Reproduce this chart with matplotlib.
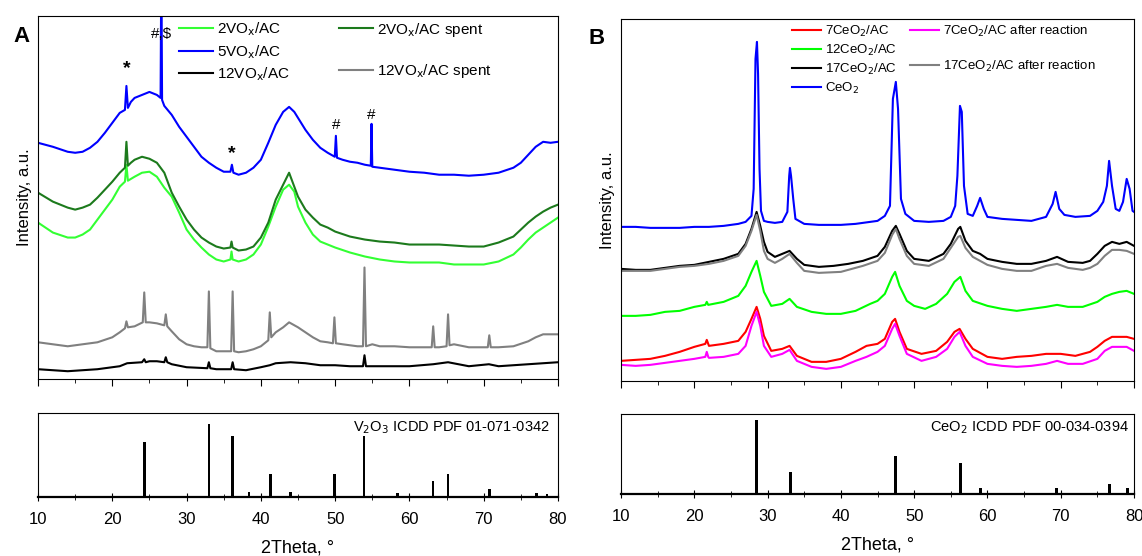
import matplotlib.pyplot as plt
from matplotlib.lines import Line2D

plt.rcParams['font.family'] = ['Liberation Sans', 'DejaVu Sans']

# ---- panel A : VOx/AC patterns (intensity, a.u.) ----
x_5v = [10, 12, 14, 15, 16, 17, 18, 19, 20, 21, 21.7, 21.9, 22.1, 22.5, 23, 24, 25, 26, 26.5, 26.6, 26.7,
        27, 28, 29, 30, 31, 32, 33, 34, 35, 35.9, 36.1, 36.3, 37, 38, 39, 40, 41, 42, 43, 43.8, 44.5, 45,
        46, 47, 48, 49, 49.95, 50.1, 50.25, 51, 52, 53, 54, 54.8, 54.9, 55.0, 56, 58, 60, 62, 64, 66, 68,
        70, 72, 74, 75, 76, 77, 78, 79, 80]
y_5v = [237, 233, 228, 227, 228, 232, 238, 247, 257, 267, 270, 294, 272, 278, 282, 285, 288, 285, 282, 420, 280,
        274, 265, 253, 243, 233, 223, 217, 212, 208, 208, 215, 207, 205, 207, 212, 220, 237, 255, 268, 273, 268, 262,
        250, 240, 232, 227, 223, 244, 222, 220, 218, 217, 215, 214, 256, 213, 212, 210, 208, 207, 205, 205, 204,
        205, 207, 212, 217, 225, 233, 238, 237, 238]

x_2v_spent = [10, 12, 14, 15, 16, 17, 18, 19, 20, 21, 21.7, 21.9, 22.1, 22.5, 23, 24, 25, 26, 27, 28, 29, 30,
              31, 32, 33, 34, 35, 35.9, 36.05, 36.2, 37, 38, 39, 40, 41, 42, 43, 43.8, 44.5, 45, 46, 47, 48,
              49, 50, 52, 54, 56, 58, 60, 62, 64, 66, 68, 70, 72, 74, 75, 76, 77, 78, 79, 80]
y_2v_spent = [187, 178, 172, 170, 172, 175, 182, 190, 198, 207, 212, 238, 214, 217, 220, 223, 221, 217, 207, 187,
              173, 160, 150, 142, 137, 133, 131, 132, 138, 132, 129, 130, 133, 142, 157, 180, 195, 207, 193, 183,
              170, 162, 155, 152, 148, 143, 140, 138, 137, 135, 135, 135, 134, 133, 133, 137, 143, 150, 157, 163,
              168, 172, 175]

x_2v = [10, 12, 14, 15, 16, 17, 18, 19, 20, 21, 21.7, 21.9, 22.1, 23, 24, 25, 26, 27, 28, 29, 30, 31, 32, 33,
        34, 35, 35.9, 36.05, 36.2, 37, 38, 39, 40, 41, 42, 43, 43.8, 44.5, 45, 46, 47, 48, 49, 50, 52, 54, 56,
        58, 60, 62, 64, 66, 68, 70, 72, 74, 75, 76, 77, 78, 79, 80]
y_2v = [157, 147, 142, 142, 145, 150, 160, 170, 180, 193, 198, 215, 199, 203, 207, 208, 203, 192, 183, 167, 150,
        140, 132, 125, 120, 118, 120, 128, 120, 118, 120, 125, 135, 153, 173, 190, 195, 188, 173, 157, 145, 138,
        135, 132, 127, 123, 120, 118, 117, 117, 117, 115, 115, 115, 118, 125, 132, 140, 147, 152, 157, 162]

x_12v_spent = [10, 12, 14, 16, 18, 20, 21, 21.7, 21.9, 22.1, 23, 24.1, 24.3, 24.5, 25, 26, 27.0, 27.2, 27.4,
               28, 29, 30, 31, 32, 32.8, 33.0, 33.2, 34, 35, 36.0, 36.2, 36.4, 37, 38, 39, 40, 41.0, 41.2,
               41.4, 42, 43, 43.8, 45, 46, 47, 48, 49, 49.7, 49.9, 50.1, 51, 52, 53, 53.75, 53.95, 54.15, 55,
               56, 58, 60, 62, 63.0, 63.2, 63.4, 64, 65.0, 65.2, 65.4, 66, 68, 70, 70.55, 70.75, 70.95, 72,
               74, 76, 77, 78, 79, 80]
y_12v_spent = [37, 35, 33, 35, 37, 42, 47, 51, 58, 52, 53, 57, 87, 57, 57, 56, 54, 65, 53,
               48, 40, 35, 33, 32, 32, 88, 31, 28, 28, 28, 88, 28, 27, 28, 30, 33, 39, 67,
               42, 47, 52, 57, 52, 47, 42, 38, 37, 36, 62, 36, 35, 34, 33, 33, 112, 33, 35,
               33, 33, 32, 32, 32, 53, 32, 32, 33, 65, 34, 35, 32, 32, 32, 44, 32, 32,
               33, 38, 42, 45, 45, 45]

x_12v = [10, 14, 16, 18, 20, 21, 22, 24, 24.3, 24.5, 25, 26, 27, 27.2, 27.4, 28, 30, 32.8, 33.0, 33.2, 34,
         35, 36.0, 36.2, 36.4, 38, 40, 41.2, 42, 44, 46, 48, 50, 52, 53.75, 53.95, 54.15, 56, 60, 63.2, 65.2,
         68, 70.7, 72, 76, 80]
y_12v = [10, 8, 9, 10, 12, 13, 16, 17, 20, 17, 18, 18, 17, 22, 17, 15, 12, 11, 17, 11, 10,
         10, 10, 17, 10, 9, 12, 14, 16, 17, 16, 14, 14, 13, 13, 24, 13, 13, 13, 15, 17,
         13, 15, 13, 15, 17]

# V2O3 reference lines
v2o3_pos = [24.3, 33.0, 36.2, 38.4, 41.3, 44.0, 49.9, 53.9, 58.4, 63.2, 65.2, 70.8, 77.1, 78.5]
v2o3_int = [65, 87, 73, 6, 28, 6, 27, 73, 5, 19, 27, 10, 5, 4]

# ---- panel B : CeO2/AC patterns ----
x_ceo2 = [10, 12, 14, 16, 18, 20, 22, 24, 26, 27, 27.8, 28.1, 28.35, 28.55, 28.7, 28.9, 29.1, 29.5, 30, 31,
          32, 32.7, 32.95, 33.05, 33.2, 33.5, 33.8, 35, 37, 40, 42, 44, 45, 46, 46.7, 47.1, 47.5, 47.8, 48.2,
          48.8, 50, 52, 54, 55, 55.6, 55.9, 56.25, 56.5, 56.8, 57.3, 58, 58.6, 59, 59.5, 60, 62, 64, 66, 68,
          68.9, 69.3, 69.8, 70.5, 72, 74, 75, 75.8, 76.3, 76.6, 77.0, 77.5, 78, 78.5, 79.0, 79.4, 79.8, 80]
y_ceo2 = [154, 154, 153, 153, 153, 154, 154, 155, 157, 159, 165, 192, 322, 339, 307, 212, 170, 160, 159, 158,
          159, 169, 205, 213, 205, 182, 162, 157, 156, 156, 157, 159, 160, 165, 175, 282, 299, 272, 182,
          167, 160, 159, 160, 164, 175, 205, 275, 269, 195, 167, 165, 175, 183, 172, 164, 162, 161, 160, 164,
          177, 189, 172, 166, 164, 165, 170, 179, 195, 220, 195, 172, 170, 179, 202, 192, 170, 169]

x_17ce = [10, 12, 14, 16, 18, 20, 22, 24, 26, 27, 27.8, 28.5, 29, 29.5, 30, 31, 32, 33, 34, 35, 37, 39, 41,
          43, 45, 46, 47, 47.5, 48, 49, 50, 52, 54, 55, 56, 56.3, 57, 58, 59, 60, 62, 64, 66, 68, 69.5, 71,
          73, 74, 75, 76, 77, 78, 79, 80]
y_17ce = [112, 111, 111, 113, 115, 116, 119, 122, 127, 137, 152, 169, 155, 139, 129, 124, 127, 130, 122, 116,
          114, 115, 117, 120, 125, 134, 150, 155, 147, 130, 122, 120, 127, 137, 152, 154, 140, 130, 127, 122,
          119, 117, 117, 120, 124, 119, 118, 120, 127, 135, 139, 137, 139, 135]

x_17ce_after = [10, 12, 14, 16, 18, 20, 22, 24, 26, 27, 27.8, 28.5, 29, 29.5, 30, 31, 32, 33, 34, 35, 37, 40,
                43, 45, 46, 47, 47.5, 48, 49, 50, 52, 54, 55, 56, 56.3, 57, 58, 59, 60, 62, 64, 66, 68, 69.5,
                71, 73, 74, 75, 76, 77, 78, 79, 80]
y_17ce_after = [110, 110, 110, 112, 114, 115, 117, 120, 125, 135, 150, 166, 150, 130, 122, 118, 122, 127, 118,
                110, 108, 109, 115, 120, 128, 146, 152, 142, 125, 117, 115, 122, 133, 144, 145, 133, 124, 120,
                116, 112, 110, 110, 115, 117, 113, 111, 113, 117, 125, 131, 131, 130, 127]

x_12ce = [10, 12, 14, 16, 18, 20, 21.5, 21.7, 21.9, 24, 26, 27, 27.8, 28.5, 29, 29.5, 30.5, 32, 33, 34, 36, 38,
          40, 42, 44, 45, 46, 47, 47.4, 48, 49, 50, 51.5, 53, 54.5, 55.5, 56.3, 57, 58, 60, 62, 64, 66, 68,
          69.5, 71, 73, 75, 76, 77, 78, 79, 80]
y_12ce = [65, 65, 66, 69, 70, 74, 76, 79, 76, 79, 85, 95, 109, 120, 105, 89, 75, 77, 82, 74, 69, 67,
          67, 70, 77, 80, 87, 104, 109, 95, 80, 75, 72, 77, 87, 99, 104, 90, 80, 75, 72, 70, 72, 74,
          76, 74, 74, 79, 84, 87, 89, 90, 87]

x_7ce = [10, 12, 14, 16, 18, 20, 21.5, 21.7, 21.9, 22, 24, 26, 27, 27.8, 28.5, 29, 29.5, 30.5, 32, 33, 34, 36,
         38, 40, 42, 43.5, 45, 46, 47, 47.4, 48, 49, 51, 53, 54.5, 55.5, 56.2, 57, 58, 60, 62, 64, 66, 68,
         70, 72, 74, 75, 76, 77, 78, 79, 80]
y_7ce = [20, 21, 22, 25, 29, 34, 37, 41, 37, 35, 37, 40, 49, 62, 74, 62, 45, 30, 32, 35, 25, 19,
         19, 22, 29, 35, 37, 42, 59, 62, 49, 32, 27, 30, 39, 49, 52, 42, 32, 24, 22, 24, 25, 27,
         27, 25, 29, 34, 40, 44, 44, 44, 42]

x_7ce_after = [10, 12, 14, 16, 18, 20, 21.5, 21.7, 21.9, 22, 24, 26, 27, 27.8, 28.5, 29, 29.5, 30.5, 32, 33,
               34, 36, 38, 40, 42, 43.5, 45, 46, 47, 47.4, 48, 49, 51, 53, 54.5, 55.5, 56.2, 57, 58, 60, 62,
               64, 66, 68, 69.5, 71, 73, 75, 76, 77, 78, 79, 80]
y_7ce_after = [16, 15, 16, 18, 20, 22, 24, 29, 24, 23, 24, 27, 35, 55, 69, 55, 35, 24, 27, 31,
               20, 14, 12, 14, 20, 24, 29, 35, 52, 57, 45, 27, 20, 24, 32, 44, 49, 35, 24, 17, 15,
               14, 15, 17, 20, 17, 17, 22, 30, 34, 34, 34, 30]

# CeO2 reference lines
ceo2_pos = [28.5, 33.1, 47.5, 56.3, 59.1, 69.4, 76.7, 79.1]
ceo2_int = [92, 27, 48, 39, 7, 7, 13, 7]

fig = plt.figure(figsize=(11.42, 5.56), dpi=100)

axA = fig.add_axes([0.0333, 0.318, 0.4553, 0.653])
axA_ref = fig.add_axes([0.0333, 0.106, 0.4553, 0.151])
axB = fig.add_axes([0.5438, 0.315, 0.4492, 0.651])
axB_ref = fig.add_axes([0.5438, 0.1115, 0.4492, 0.144])

lw = 1.5
l_2v, = axA.plot(x_2v, y_2v, color='#33ff33', lw=lw)
l_2vs, = axA.plot(x_2v_spent, y_2v_spent, color='#1c7a1c', lw=lw)
l_5v, = axA.plot(x_5v, y_5v, color='#0000ff', lw=lw)
l_12vs, = axA.plot(x_12v_spent, y_12v_spent, color='#808080', lw=lw)
l_12v, = axA.plot(x_12v, y_12v, color='black', lw=lw)
blank = Line2D([], [], color='none')
axA.legend([l_2v, l_5v, l_12v, l_2vs, blank, l_12vs],
           ['2VO$_\\mathrm{x}$/AC', '5VO$_\\mathrm{x}$/AC', '12VO$_\\mathrm{x}$/AC',
            '2VO$_\\mathrm{x}$/AC spent', '', '12VO$_\\mathrm{x}$/AC spent'],
           ncol=2, loc='upper left', bbox_to_anchor=(0.245, 1.025), frameon=False, fontsize=11,
           handlelength=2.2, labelspacing=0.3, columnspacing=3.2, handletextpad=0.3)

axA.text(26.65, 346, '#,$', ha='center', va='center', fontsize=11)
axA.text(21.9, 311, '*', ha='center', va='center', fontsize=14, fontweight='bold')
axA.text(36.1, 226, '*', ha='center', va='center', fontsize=14, fontweight='bold')
axA.text(50.1, 255, '#', ha='center', va='center', fontsize=11)
axA.text(54.9, 265, '#', ha='center', va='center', fontsize=11)

axB.plot(x_7ce, y_7ce, color='#ff0000', lw=lw, label='7CeO$_2$/AC')
axB.plot(x_12ce, y_12ce, color='#00ff00', lw=lw, label='12CeO$_2$/AC')
axB.plot(x_17ce, y_17ce, color='black', lw=lw, label='17CeO$_2$/AC')
axB.plot(x_ceo2, y_ceo2, color='#0000ff', lw=lw, label='CeO$_2$')
axB.plot(x_7ce_after, y_7ce_after, color='#ff00ff', lw=lw, label='7CeO$_2$/AC after reaction')
axB.plot(x_17ce_after, y_17ce_after, color='#808080', lw=lw, label='17CeO$_2$/AC after reaction')
h, lab = axB.get_legend_handles_labels()
axB.legend([h[0], h[1], h[2], h[3], h[4], blank, h[5], blank],
           [lab[0], lab[1], lab[2], lab[3], lab[4], '', lab[5], ''],
           ncol=2, loc='upper left', bbox_to_anchor=(0.31, 1.02), frameon=False, fontsize=9.5,
           handlelength=2.2, labelspacing=0.3, columnspacing=1.0, handletextpad=0.3)

for ax in (axA, axB):
    ax.set_xlim(10, 80)
    ax.set_yticks([])
    ax.set_xticks(range(10, 81, 10))
    ax.set_xticks(range(15, 80, 10), minor=True)
    ax.tick_params(axis='x', which='both', direction='out', labelbottom=False)
    ax.tick_params(axis='x', which='major', length=5)
    ax.tick_params(axis='x', which='minor', length=3)
    ax.set_ylabel('Intensity, a.u.', fontsize=12)
axA.set_ylim(0, 364)
axB.set_ylim(0, 362)

axA_ref.bar(v2o3_pos, v2o3_int, width=0.35, color='black')
axB_ref.bar(ceo2_pos, ceo2_int, width=0.45, color='black')
axA_ref.text(0.985, 0.93, 'V$_2$O$_3$ ICDD PDF 01-071-0342', transform=axA_ref.transAxes,
             ha='right', va='top', fontsize=10.5)
axB_ref.text(0.99, 0.93, 'CeO$_2$ ICDD PDF 00-034-0394', transform=axB_ref.transAxes,
             ha='right', va='top', fontsize=10.5)
for ax in (axA_ref, axB_ref):
    ax.set_xlim(10, 80)
    ax.set_ylim(0, 100)
    ax.set_yticks([])
    ax.set_xticks(range(10, 81, 10))
    ax.set_xticks(range(15, 80, 10), minor=True)
    ax.tick_params(axis='x', which='both', direction='inout', labelsize=12, pad=8)
    ax.tick_params(axis='x', which='major', length=6)
    ax.tick_params(axis='x', which='minor', length=4)
    ax.spines['bottom'].set_linewidth(1.6)
    ax.set_xlabel('2Theta, °', fontsize=13, labelpad=9)

fig.text(0.012, 0.925, 'A', fontsize=16, fontweight='bold')
fig.text(0.515, 0.92, 'B', fontsize=16, fontweight='bold')

fig.savefig('out.png', dpi=100)
